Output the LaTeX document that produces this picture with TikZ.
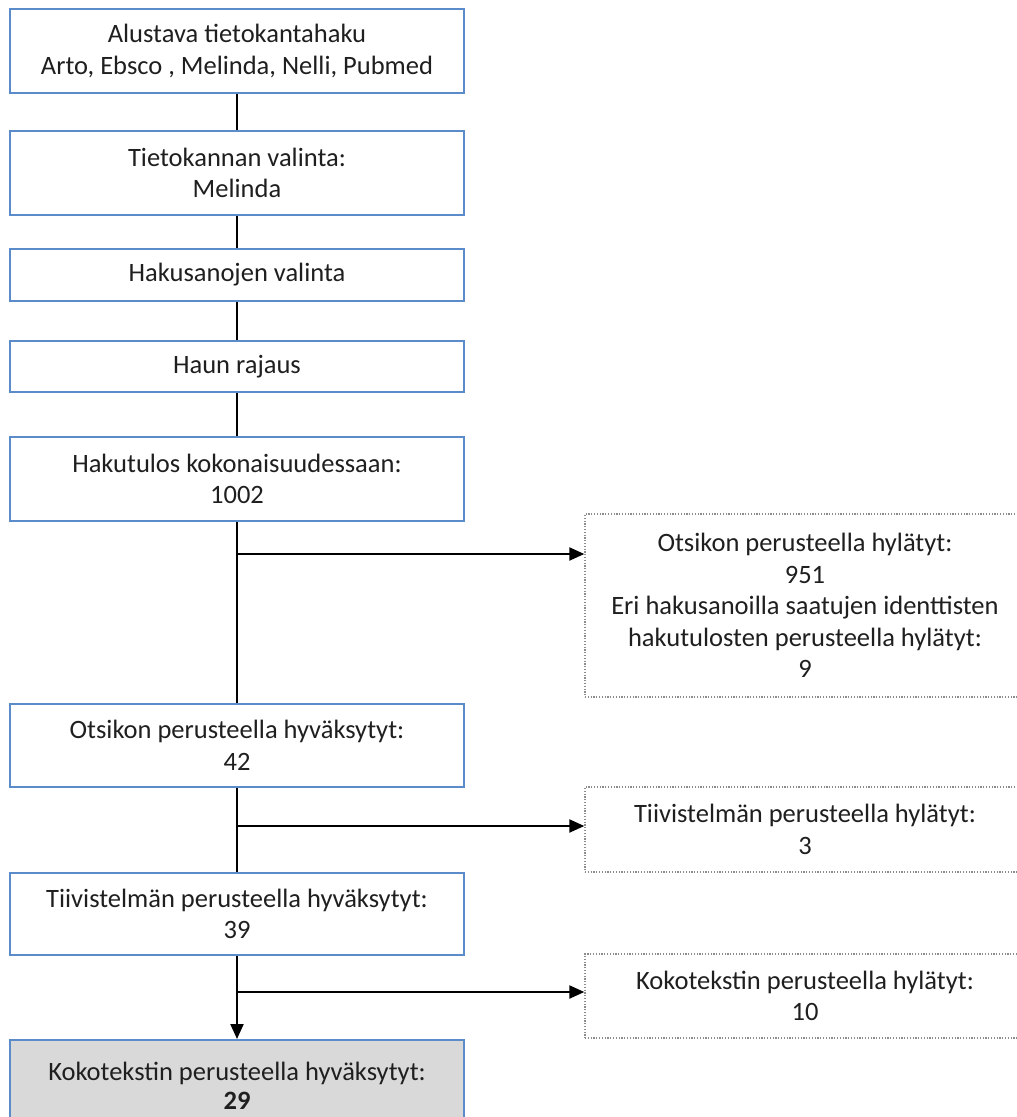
\documentclass[tikz,border=0pt]{standalone}
\usepackage{fontspec}
\setmainfont{Carlito}
\usetikzlibrary{arrows.meta}
\definecolor{boxblue}{HTML}{5B8BC9}
\definecolor{dotgray}{HTML}{8C8C8C}
\definecolor{fillgray}{HTML}{D9D9D9}
\tikzset{
  mainbox/.style={draw=boxblue, line width=2pt, fill=white, minimum width=454pt, inner sep=0pt, align=center, font=\fontsize{26.5}{31.5}\selectfont, text=black!88},
  sidebox/.style={draw=dotgray, line width=1.4pt, dash pattern=on 1.2pt off 1.6pt, minimum width=440pt, inner sep=0pt, align=center, font=\fontsize{26.5}{31.5}\selectfont, text=black!88},
  conn/.style={line width=2.2pt, black},
  arr/.style={conn, -{Triangle[length=15pt,width=13pt]}},
}
\begin{document}
\begin{tikzpicture}[x=1pt,y=-1pt]
\useasboundingbox (0,0) rectangle (1017,1117);
\clip (0,0) rectangle (1017,1117);
\fill[white] (0,0) rectangle (1017,1117);
\node[mainbox, minimum height=84pt] (b1) at (237,51) {Alustava tietokantahaku\\Arto, Ebsco , Melinda, Nelli, Pubmed};
\node[mainbox, minimum height=84pt] (b2) at (237,173) {Tietokannan valinta:\\Melinda};
\node[mainbox, minimum height=52pt] (b3) at (237,275) {Hakusanojen valinta};
\node[mainbox, minimum height=51pt] (b4) at (237,366.5) {Haun rajaus};
\node[mainbox, minimum height=84pt] (b5) at (237,479) {Hakutulos kokonaisuudessaan:\\1002};
\node[mainbox, minimum height=83pt] (b6) at (237,745.5) {Otsikon perusteella hyväksytyt:\\42};
\node[mainbox, minimum height=82pt] (b7) at (237,914) {Tiivistelmän perusteella hyväksytyt:\\39};
\node[mainbox, minimum height=92pt, fill=fillgray, font=\fontsize{26.5}{29}\selectfont] (b8) at (237,1086) {Kokotekstin perusteella hyväksytyt:\\\textbf{29}};
\node[sidebox, minimum height=183pt] (d1) at (805,605.5) {Otsikon perusteella hylätyt:\\951\\Eri hakusanoilla saatujen identtisten\\hakutulosten perusteella hylätyt:\\9};
\node[sidebox, minimum height=85pt] (d2) at (805,829.5) {Tiivistelmän perusteella hylätyt:\\3};
\node[sidebox, minimum height=84pt] (d3) at (805,996) {Kokotekstin perusteella hylätyt:\\10};
\coordinate (j1) at (237,554);
\coordinate (j2) at (237,826);
\coordinate (j3) at (237,992);
\draw[conn] (b1) -- (b2);
\draw[conn] (b2) -- (b3);
\draw[conn] (b3) -- (b4);
\draw[conn] (b4) -- (b5);
\draw[conn] (b5) -- (b6);
\draw[conn] (b6) -- (b7);
\draw[arr] (b7) -- (b8);
\draw[arr] (j1) -- (j1 -| d1.west);
\draw[arr] (j2) -- (j2 -| d2.west);
\draw[arr] (j3) -- (j3 -| d3.west);
\end{tikzpicture}
\end{document}
